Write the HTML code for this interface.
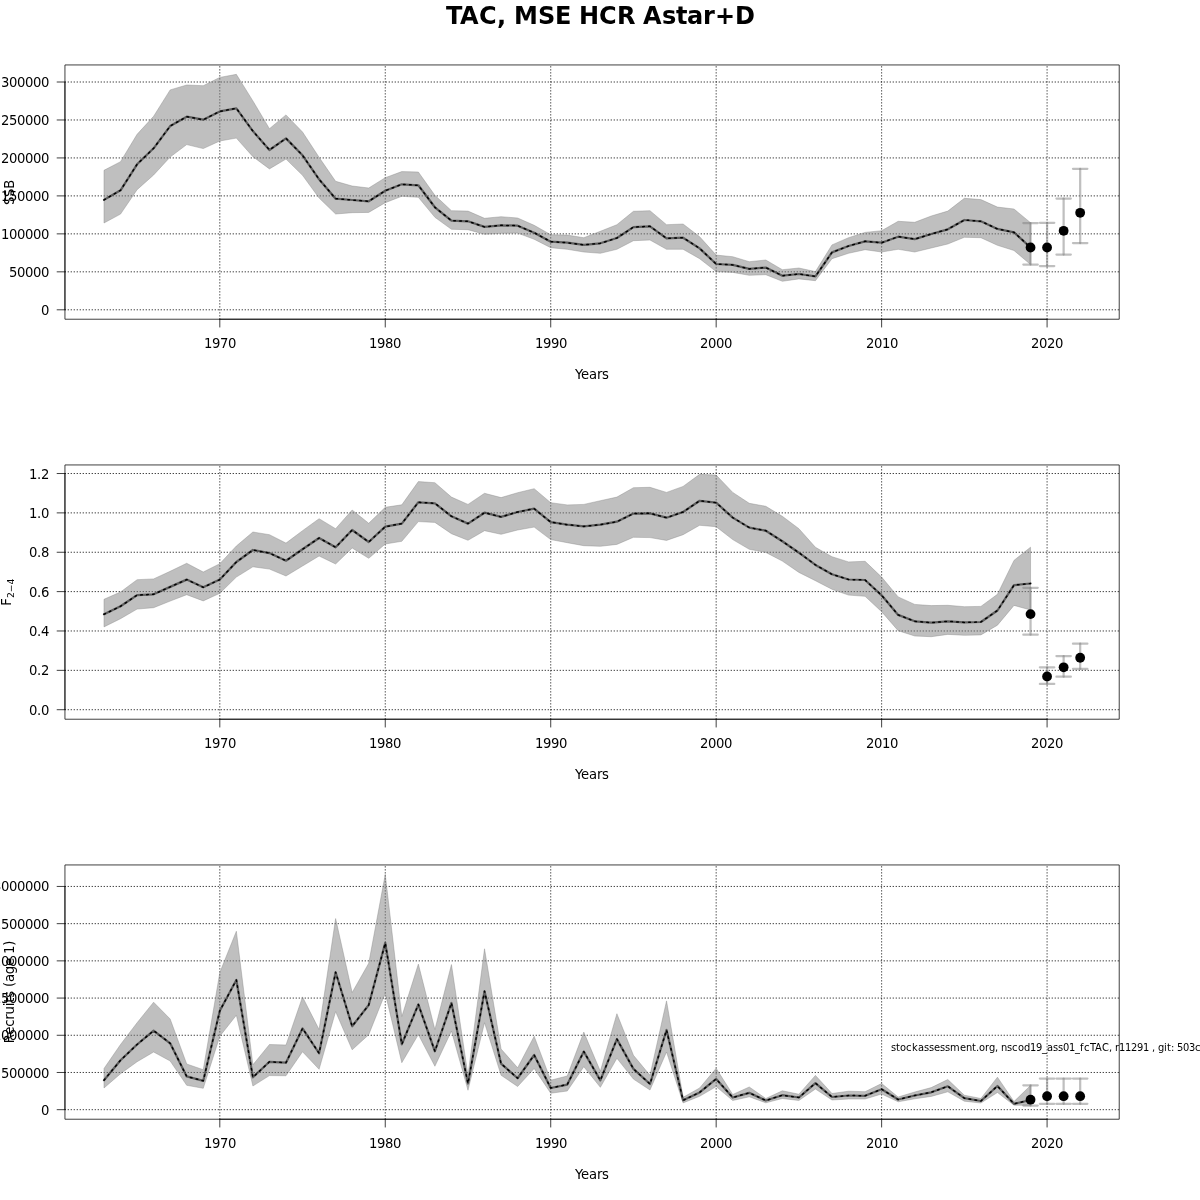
<!DOCTYPE html>
<html lang="en"><head><meta charset="utf-8"><title>TAC, MSE HCR Astar+D</title>
<style>
html,body{margin:0;padding:0;background:#fff;}
body{width:1200px;height:1200px;overflow:hidden;}
svg{display:block;}
text{font-family:"DejaVu Sans","Liberation Sans",sans-serif;fill:#000;}
.t{font-size:13.2px;}
.ax{stroke:#000;stroke-width:0.75;fill:none;stroke-linejoin:round;}
.gr{stroke:#000;stroke-width:0.75;fill:none;stroke-dasharray:1.34 1.66;stroke-dashoffset:0.295;}
.band{fill:rgb(127,127,127);fill-opacity:0.5;stroke:rgb(127,127,127);stroke-opacity:0.5;stroke-width:0.75;stroke-linejoin:round;}
.ln{stroke:#000;stroke-opacity:0.5;stroke-width:2.25;fill:none;stroke-linejoin:round;stroke-linecap:round;}
.dt{stroke:#000;stroke-width:1.5;fill:none;stroke-linejoin:round;stroke-linecap:round;stroke-dasharray:1.6 4.4;stroke-dashoffset:0.05;}
.eb{stroke:rgb(127,127,127);stroke-opacity:0.5;stroke-width:2.25;fill:none;stroke-linecap:round;}
</style></head><body>
<svg width="1200" height="1200" viewBox="0 0 1200 1200">
<rect width="1200" height="1200" fill="#fff"/>
<text x="446 460 479 497 506 514 538 555 571 579 599 617 635 643 662 676 687 703 715 735" y="24" font-size="24" font-weight="bold">TAC, MSE HCR Astar+D</text>
<g>
<line class="gr" x1="219.81" y1="319.22" x2="219.81" y2="64.94"/>
<line class="gr" x1="385.26" y1="319.22" x2="385.26" y2="64.94"/>
<line class="gr" x1="550.72" y1="319.22" x2="550.72" y2="64.94"/>
<line class="gr" x1="716.17" y1="319.22" x2="716.17" y2="64.94"/>
<line class="gr" x1="881.63" y1="319.22" x2="881.63" y2="64.94"/>
<line class="gr" x1="1047.08" y1="319.22" x2="1047.08" y2="64.94"/>
<line class="gr" x1="64.94" y1="309.8" x2="1119.22" y2="309.8"/>
<line class="gr" x1="64.94" y1="271.83" x2="1119.22" y2="271.83"/>
<line class="gr" x1="64.94" y1="233.87" x2="1119.22" y2="233.87"/>
<line class="gr" x1="64.94" y1="195.9" x2="1119.22" y2="195.9"/>
<line class="gr" x1="64.94" y1="157.93" x2="1119.22" y2="157.93"/>
<line class="gr" x1="64.94" y1="119.97" x2="1119.22" y2="119.97"/>
<line class="gr" x1="64.94" y1="82" x2="1119.22" y2="82"/>
<polygon class="band" points="103.99,170.3 120.53,161.7 137.08,134.3 153.62,116.3 170.17,89.9 186.71,85 203.26,85.7 219.81,77.4 236.35,74.36 252.9,100.9 269.44,128.7 285.99,114.9 302.53,132 319.08,157.3 335.62,181.3 352.17,186 368.72,188 385.26,177.7 401.81,171.6 418.35,172 434.9,195.3 451.44,210.7 467.99,211.1 484.53,218.3 501.08,216.7 517.63,218 534.17,225.3 550.72,234.7 567.26,235.1 583.81,237.7 600.35,231.3 616.9,224.7 633.44,211.3 649.99,210.7 666.53,224.7 683.08,224 699.63,236.7 716.17,255.1 732.72,256.7 749.26,261.7 765.81,260 782.35,269.7 798.9,268 815.44,271.6 831.99,244.9 848.54,237.7 865.08,232.4 881.63,230.7 898.17,221.3 914.72,222.3 931.26,216 947.81,211.1 964.35,198.3 980.9,199.6 997.45,207.1 1013.99,209 1030.54,222.7 1030.54,264.5 1013.99,250.5 997.45,245.3 980.9,237.7 964.35,237.3 947.81,244 931.26,248 914.72,252 898.17,249.3 881.63,252 865.08,249.7 848.54,253.3 831.99,258.7 815.44,280.7 798.9,278.9 782.35,281.3 765.81,274.7 749.26,275.3 732.72,272.4 716.17,271.6 699.63,258.7 683.08,249.3 666.53,249.3 649.99,240 633.44,240.7 616.9,249.3 600.35,253.3 583.81,252 567.26,249.3 550.72,247.7 534.17,239.3 517.63,233.1 501.08,233.3 484.53,234.3 467.99,229.7 451.44,229.3 434.9,217.3 418.35,197.3 401.81,196.3 385.26,202.7 368.72,212.4 352.17,212.7 335.62,214 319.08,198 302.53,175.3 285.99,159.1 269.44,168.9 252.9,156.7 236.35,138.1 219.81,141 203.26,148.6 186.71,144.6 170.17,157 153.62,175 137.08,189.7 120.53,214.1 103.99,223"/>
<polyline class="ln" points="103.99,199.9 120.53,190.3 137.08,164.3 153.62,148.3 170.17,126.1 186.71,116.7 203.26,119.7 219.81,111.4 236.35,108.3 252.9,131.1 269.44,150 285.99,138.4 302.53,155.3 319.08,179.3 335.62,198.7 352.17,200 368.72,201.3 385.26,190.7 401.81,184.3 418.35,185.3 434.9,207.3 451.44,220.7 467.99,221.3 484.53,226.9 501.08,225.3 517.63,225.7 534.17,232.7 550.72,241.7 567.26,242.7 583.81,244.9 600.35,243.3 616.9,238 633.44,227.1 649.99,226.3 666.53,238.3 683.08,237.7 699.63,248.4 716.17,264 732.72,264.9 749.26,268.9 765.81,267.6 782.35,275.7 798.9,274 815.44,276.4 831.99,252.4 848.54,246 865.08,241.3 881.63,242.7 898.17,236.7 914.72,239.1 931.26,234 947.81,229.3 964.35,220 980.9,221.3 997.45,228.9 1013.99,232.3 1030.54,247.5"/>
<polyline class="dt" points="103.99,199.9 120.53,190.3 137.08,164.3 153.62,148.3 170.17,126.1 186.71,116.7 203.26,119.7 219.81,111.4 236.35,108.3 252.9,131.1 269.44,150 285.99,138.4 302.53,155.3 319.08,179.3 335.62,198.7 352.17,200 368.72,201.3 385.26,190.7 401.81,184.3 418.35,185.3 434.9,207.3 451.44,220.7 467.99,221.3 484.53,226.9 501.08,225.3 517.63,225.7 534.17,232.7 550.72,241.7 567.26,242.7 583.81,244.9 600.35,243.3 616.9,238 633.44,227.1 649.99,226.3 666.53,238.3 683.08,237.7 699.63,248.4 716.17,264 732.72,264.9 749.26,268.9 765.81,267.6 782.35,275.7 798.9,274 815.44,276.4 831.99,252.4 848.54,246 865.08,241.3 881.63,242.7 898.17,236.7 914.72,239.1 931.26,234 947.81,229.3 964.35,220 980.9,221.3 997.45,228.9 1013.99,232.3 1030.54,247.5"/>
<path class="eb" d="M1030.54 264.5V223"/><path class="eb" d="M1023.34 264.5H1037.74"/><path class="eb" d="M1023.34 223H1037.74"/>
<path class="eb" d="M1047.08 266V222.8"/><path class="eb" d="M1039.88 266H1054.28"/><path class="eb" d="M1039.88 222.8H1054.28"/>
<path class="eb" d="M1063.63 254.5V198.5"/><path class="eb" d="M1056.43 254.5H1070.83"/><path class="eb" d="M1056.43 198.5H1070.83"/>
<path class="eb" d="M1080.17 243V168.8"/><path class="eb" d="M1072.97 243H1087.37"/><path class="eb" d="M1072.97 168.8H1087.37"/>
<circle cx="1030.54" cy="247.5" r="4.9" fill="#000"/>
<circle cx="1047.08" cy="247.5" r="4.9" fill="#000"/>
<circle cx="1063.63" cy="230.8" r="4.9" fill="#000"/>
<circle cx="1080.17" cy="212.8" r="4.9" fill="#000"/>
<path class="ax" d="M64.94 64.94H1119.22V319.22H64.94Z"/>
<line class="ax" x1="219.51" y1="319.22" x2="1047.38" y2="319.22"/>
<line class="ax" x1="219.81" y1="318.92" x2="219.81" y2="327.44"/>
<line class="ax" x1="385.26" y1="318.92" x2="385.26" y2="327.44"/>
<line class="ax" x1="550.72" y1="318.92" x2="550.72" y2="327.44"/>
<line class="ax" x1="716.17" y1="318.92" x2="716.17" y2="327.44"/>
<line class="ax" x1="881.63" y1="318.92" x2="881.63" y2="327.44"/>
<line class="ax" x1="1047.08" y1="318.92" x2="1047.08" y2="327.44"/>
<text class="t" x="204 212 220 228" y="348">1970</text>
<text class="t" x="369 377 385 393" y="348">1980</text>
<text class="t" x="535 543 551 559" y="348">1990</text>
<text class="t" x="700 708 716 724" y="348">2000</text>
<text class="t" x="866 874 882 890" y="348">2010</text>
<text class="t" x="1031 1039 1047 1055" y="348">2020</text>
<line class="ax" x1="64.94" y1="310.1" x2="64.94" y2="81.7"/>
<line class="ax" x1="65.24" y1="309.8" x2="56.72" y2="309.8"/>
<line class="ax" x1="65.24" y1="271.83" x2="56.72" y2="271.83"/>
<line class="ax" x1="65.24" y1="233.87" x2="56.72" y2="233.87"/>
<line class="ax" x1="65.24" y1="195.9" x2="56.72" y2="195.9"/>
<line class="ax" x1="65.24" y1="157.93" x2="56.72" y2="157.93"/>
<line class="ax" x1="65.24" y1="119.97" x2="56.72" y2="119.97"/>
<line class="ax" x1="65.24" y1="82" x2="56.72" y2="82"/>
<text class="t" x="41" y="315">0</text>
<text class="t" x="9 17 25 33 41" y="277">50000</text>
<text class="t" x="1 9 17 25 33 41" y="239">100000</text>
<text class="t" x="1 9 17 25 33 41" y="201">150000</text>
<text class="t" x="1 9 17 25 33 41" y="163">200000</text>
<text class="t" x="1 9 17 25 33 41" y="125">250000</text>
<text class="t" x="1 9 17 25 33 41" y="87">300000</text>
<text class="t" x="575 581 589 597 602" y="379">Years</text>
<text class="t" transform="translate(14.2 192.48) rotate(-90)" text-anchor="middle" letter-spacing="-0.2">SSB</text>
</g>
<g>
<line class="gr" x1="219.81" y1="719.22" x2="219.81" y2="464.94"/>
<line class="gr" x1="385.26" y1="719.22" x2="385.26" y2="464.94"/>
<line class="gr" x1="550.72" y1="719.22" x2="550.72" y2="464.94"/>
<line class="gr" x1="716.17" y1="719.22" x2="716.17" y2="464.94"/>
<line class="gr" x1="881.63" y1="719.22" x2="881.63" y2="464.94"/>
<line class="gr" x1="1047.08" y1="719.22" x2="1047.08" y2="464.94"/>
<line class="gr" x1="64.94" y1="709.71" x2="1119.22" y2="709.71"/>
<line class="gr" x1="64.94" y1="670.35" x2="1119.22" y2="670.35"/>
<line class="gr" x1="64.94" y1="630.98" x2="1119.22" y2="630.98"/>
<line class="gr" x1="64.94" y1="591.62" x2="1119.22" y2="591.62"/>
<line class="gr" x1="64.94" y1="552.26" x2="1119.22" y2="552.26"/>
<line class="gr" x1="64.94" y1="512.89" x2="1119.22" y2="512.89"/>
<line class="gr" x1="64.94" y1="473.53" x2="1119.22" y2="473.53"/>
<polygon class="band" points="103.99,599.3 120.53,592 137.08,579.7 153.62,578.9 170.17,571.3 186.71,563.3 203.26,572 219.81,563.7 236.35,546 252.9,532 269.44,534.7 285.99,543.1 302.53,530.7 319.08,518.7 335.62,528.7 352.17,510 368.72,523.3 385.26,507.3 401.81,504.8 418.35,481.6 434.9,482.7 451.44,497.1 467.99,504.4 484.53,493.3 501.08,497.6 517.63,492.7 534.17,488.7 550.72,502.7 567.26,504.9 583.81,504.4 600.35,500.7 616.9,497.1 633.44,487.7 649.99,487.3 666.53,492.4 683.08,486.4 699.63,474.36 716.17,475.1 732.72,492.4 749.26,503.3 765.81,506.3 782.35,516.3 798.9,528.7 815.44,547.3 831.99,556.7 848.54,561.9 865.08,561.3 881.63,577.1 898.17,596.9 914.72,604.4 931.26,605.6 947.81,605.3 964.35,606.7 980.9,606.4 997.45,594.3 1013.99,560.4 1030.54,547.2 1030.54,610 1013.99,605.4 997.45,625.2 980.9,634.9 964.35,635.3 947.81,634.4 931.26,636.7 914.72,636 898.17,630.7 881.63,611.7 865.08,596.3 848.54,595.1 831.99,589.3 815.44,580.7 798.9,572.4 782.35,561.1 765.81,552.4 749.26,549.3 732.72,539.6 716.17,526.7 699.63,525.3 683.08,534.7 666.53,540.4 649.99,537.6 633.44,537.3 616.9,544.4 600.35,546.3 583.81,545.7 567.26,542.7 550.72,539.6 534.17,527.1 517.63,530 501.08,534.3 484.53,530.7 467.99,540.3 451.44,533.7 434.9,522.4 418.35,521.6 401.81,541.3 385.26,544 368.72,558.3 352.17,548 335.62,564 319.08,556 302.53,566 285.99,576 269.44,569.1 252.9,566.8 236.35,577.1 219.81,593.3 203.26,600.9 186.71,594.7 170.17,601.1 153.62,607.7 137.08,609.1 120.53,618.7 103.99,626.9"/>
<polyline class="ln" points="103.99,614.3 120.53,606.3 137.08,595.1 153.62,594.3 170.17,586.9 186.71,579.6 203.26,587.3 219.81,579.6 236.35,562 252.9,550 269.44,553.1 285.99,560.7 302.53,549.3 319.08,538 335.62,547.3 352.17,530 368.72,542 385.26,526.7 401.81,523.6 418.35,502.3 434.9,503.3 451.44,516.3 467.99,523.6 484.53,512.7 501.08,516.9 517.63,512 534.17,508.7 550.72,522.2 567.26,524.7 583.81,526.4 600.35,524.7 616.9,521.7 633.44,513.6 649.99,513.3 666.53,517.7 683.08,512 699.63,500.8 716.17,502.7 732.72,517.6 749.26,527.6 765.81,530.7 782.35,541.3 798.9,552.7 815.44,564.9 831.99,574.3 848.54,579.5 865.08,580 881.63,595.3 898.17,614.9 914.72,621.3 931.26,622.7 947.81,621.3 964.35,622.4 980.9,622 997.45,610.5 1013.99,585.2 1030.54,583.5"/>
<polyline class="dt" points="103.99,614.3 120.53,606.3 137.08,595.1 153.62,594.3 170.17,586.9 186.71,579.6 203.26,587.3 219.81,579.6 236.35,562 252.9,550 269.44,553.1 285.99,560.7 302.53,549.3 319.08,538 335.62,547.3 352.17,530 368.72,542 385.26,526.7 401.81,523.6 418.35,502.3 434.9,503.3 451.44,516.3 467.99,523.6 484.53,512.7 501.08,516.9 517.63,512 534.17,508.7 550.72,522.2 567.26,524.7 583.81,526.4 600.35,524.7 616.9,521.7 633.44,513.6 649.99,513.3 666.53,517.7 683.08,512 699.63,500.8 716.17,502.7 732.72,517.6 749.26,527.6 765.81,530.7 782.35,541.3 798.9,552.7 815.44,564.9 831.99,574.3 848.54,579.5 865.08,580 881.63,595.3 898.17,614.9 914.72,621.3 931.26,622.7 947.81,621.3 964.35,622.4 980.9,622 997.45,610.5 1013.99,585.2 1030.54,583.5"/>
<path class="eb" d="M1030.54 634.7V587.8"/><path class="eb" d="M1023.34 634.7H1037.74"/><path class="eb" d="M1023.34 587.8H1037.74"/>
<path class="eb" d="M1047.08 683.9V667.3"/><path class="eb" d="M1039.88 683.9H1054.28"/><path class="eb" d="M1039.88 667.3H1054.28"/>
<path class="eb" d="M1063.63 676.7V656"/><path class="eb" d="M1056.43 676.7H1070.83"/><path class="eb" d="M1056.43 656H1070.83"/>
<path class="eb" d="M1080.17 668.8V643.65"/><path class="eb" d="M1072.97 668.8H1087.37"/><path class="eb" d="M1072.97 643.65H1087.37"/>
<circle cx="1030.54" cy="614.1" r="4.9" fill="#000"/>
<circle cx="1047.08" cy="676.5" r="4.9" fill="#000"/>
<circle cx="1063.63" cy="667.3" r="4.9" fill="#000"/>
<circle cx="1080.17" cy="657.75" r="4.9" fill="#000"/>
<path class="ax" d="M64.94 464.94H1119.22V719.22H64.94Z"/>
<line class="ax" x1="219.51" y1="719.22" x2="1047.38" y2="719.22"/>
<line class="ax" x1="219.81" y1="718.92" x2="219.81" y2="727.44"/>
<line class="ax" x1="385.26" y1="718.92" x2="385.26" y2="727.44"/>
<line class="ax" x1="550.72" y1="718.92" x2="550.72" y2="727.44"/>
<line class="ax" x1="716.17" y1="718.92" x2="716.17" y2="727.44"/>
<line class="ax" x1="881.63" y1="718.92" x2="881.63" y2="727.44"/>
<line class="ax" x1="1047.08" y1="718.92" x2="1047.08" y2="727.44"/>
<text class="t" x="204 212 220 228" y="748">1970</text>
<text class="t" x="369 377 385 393" y="748">1980</text>
<text class="t" x="535 543 551 559" y="748">1990</text>
<text class="t" x="700 708 716 724" y="748">2000</text>
<text class="t" x="866 874 882 890" y="748">2010</text>
<text class="t" x="1031 1039 1047 1055" y="748">2020</text>
<line class="ax" x1="64.94" y1="710.01" x2="64.94" y2="473.23"/>
<line class="ax" x1="65.24" y1="709.71" x2="56.72" y2="709.71"/>
<line class="ax" x1="65.24" y1="670.35" x2="56.72" y2="670.35"/>
<line class="ax" x1="65.24" y1="630.98" x2="56.72" y2="630.98"/>
<line class="ax" x1="65.24" y1="591.62" x2="56.72" y2="591.62"/>
<line class="ax" x1="65.24" y1="552.26" x2="56.72" y2="552.26"/>
<line class="ax" x1="65.24" y1="512.89" x2="56.72" y2="512.89"/>
<line class="ax" x1="65.24" y1="473.53" x2="56.72" y2="473.53"/>
<text class="t" x="29 37 41" y="715">0.0</text>
<text class="t" x="29 37 41" y="675">0.2</text>
<text class="t" x="29 37 41" y="636">0.4</text>
<text class="t" x="29 37 41" y="597">0.6</text>
<text class="t" x="29 37 41" y="557">0.8</text>
<text class="t" x="29 37 41" y="518">1.0</text>
<text class="t" x="29 37 41" y="479">1.2</text>
<text class="t" x="575 581 589 597 602" y="779">Years</text>
<text class="t" transform="translate(11.2 592.08) rotate(-90)" text-anchor="middle">F<tspan font-size="9.24" dy="2.6">2−4</tspan></text>
</g>
<g>
<line class="gr" x1="219.81" y1="1119.22" x2="219.81" y2="864.94"/>
<line class="gr" x1="385.26" y1="1119.22" x2="385.26" y2="864.94"/>
<line class="gr" x1="550.72" y1="1119.22" x2="550.72" y2="864.94"/>
<line class="gr" x1="716.17" y1="1119.22" x2="716.17" y2="864.94"/>
<line class="gr" x1="881.63" y1="1119.22" x2="881.63" y2="864.94"/>
<line class="gr" x1="1047.08" y1="1119.22" x2="1047.08" y2="864.94"/>
<line class="gr" x1="64.94" y1="1109.68" x2="1119.22" y2="1109.68"/>
<line class="gr" x1="64.94" y1="1072.48" x2="1119.22" y2="1072.48"/>
<line class="gr" x1="64.94" y1="1035.27" x2="1119.22" y2="1035.27"/>
<line class="gr" x1="64.94" y1="998.07" x2="1119.22" y2="998.07"/>
<line class="gr" x1="64.94" y1="960.86" x2="1119.22" y2="960.86"/>
<line class="gr" x1="64.94" y1="923.66" x2="1119.22" y2="923.66"/>
<line class="gr" x1="64.94" y1="886.45" x2="1119.22" y2="886.45"/>
<polygon class="band" points="103.99,1068.5 120.53,1044.5 137.08,1022.75 153.62,1002.2 170.17,1019 186.71,1064 203.26,1069.7 219.81,972.5 236.35,931.25 252.9,1064.8 269.44,1044.5 285.99,1045 302.53,996.9 319.08,1029.5 335.62,918.55 352.17,992.5 368.72,963.25 385.26,874.36 401.81,1016.5 418.35,964.1 434.9,1029.5 451.44,964.55 467.99,1075.25 484.53,948.8 501.08,1049 517.63,1067.75 534.17,1036.25 550.72,1080.2 567.26,1076 583.81,1032.1 600.35,1071.3 616.9,1013.7 633.44,1055.3 649.99,1075.3 666.53,1000.9 683.08,1097.3 699.63,1088 716.17,1068.3 732.72,1094.5 749.26,1087 765.81,1098.5 782.35,1090.8 798.9,1094.2 815.44,1075.4 831.99,1093.5 848.54,1091.2 865.08,1091.7 881.63,1083.5 898.17,1097 914.72,1092 931.26,1087.6 947.81,1079.5 964.35,1095.2 980.9,1098.5 997.45,1077.2 1013.99,1101.5 1030.54,1085.5 1030.54,1105.3 1013.99,1105.2 997.45,1092.5 980.9,1103 964.35,1101.2 947.81,1091.8 931.26,1096.4 914.72,1098.8 898.17,1101.8 881.63,1094 865.08,1099 848.54,1099 831.99,1100 815.44,1089 798.9,1100.5 782.35,1098.5 765.81,1102.8 749.26,1096.8 732.72,1100.5 716.17,1086.6 699.63,1096.3 683.08,1102.9 666.53,1052 649.99,1090 633.44,1079.1 616.9,1058.3 600.35,1087.3 583.81,1066.7 567.26,1091 550.72,1093.25 534.17,1068.5 517.63,1086.5 501.08,1075.25 484.53,1022.75 467.99,1090.25 451.44,1031 434.9,1066.25 418.35,1034.6 401.81,1062.7 385.26,993.25 368.72,1034.7 352.17,1049.8 335.62,1011.6 319.08,1069.3 302.53,1051.75 285.99,1075.75 269.44,1075.6 252.9,1086 236.35,1015.25 219.81,1036.25 203.26,1088.3 186.71,1085.3 170.17,1061 153.62,1052 137.08,1061.75 120.53,1073.75 103.99,1088"/>
<polyline class="ln" points="103.99,1080.2 120.53,1060.25 137.08,1044.5 153.62,1030.7 170.17,1043.3 186.71,1076.45 203.26,1080.8 219.81,1010.75 236.35,980 252.9,1077.3 269.44,1061.8 285.99,1062.7 302.53,1028.4 319.08,1053.25 335.62,972.25 352.17,1026.25 368.72,1005 385.26,942.9 401.81,1044.25 418.35,1004.5 434.9,1051.25 451.44,1002.95 467.99,1083.5 484.53,991.25 501.08,1063.7 517.63,1078.25 534.17,1055 550.72,1088 567.26,1084.55 583.81,1051.6 600.35,1080.4 616.9,1039.1 633.44,1068.9 649.99,1084 666.53,1030 683.08,1100.3 699.63,1092.4 716.17,1078.9 732.72,1097.5 749.26,1092.8 765.81,1100.5 782.35,1095.2 798.9,1097.5 815.44,1083.1 831.99,1097 848.54,1095.5 865.08,1095.8 881.63,1089.2 898.17,1099.5 914.72,1095.5 931.26,1092.3 947.81,1086.3 964.35,1098.2 980.9,1101 997.45,1086 1013.99,1103.8 1030.54,1100"/>
<polyline class="dt" points="103.99,1080.2 120.53,1060.25 137.08,1044.5 153.62,1030.7 170.17,1043.3 186.71,1076.45 203.26,1080.8 219.81,1010.75 236.35,980 252.9,1077.3 269.44,1061.8 285.99,1062.7 302.53,1028.4 319.08,1053.25 335.62,972.25 352.17,1026.25 368.72,1005 385.26,942.9 401.81,1044.25 418.35,1004.5 434.9,1051.25 451.44,1002.95 467.99,1083.5 484.53,991.25 501.08,1063.7 517.63,1078.25 534.17,1055 550.72,1088 567.26,1084.55 583.81,1051.6 600.35,1080.4 616.9,1039.1 633.44,1068.9 649.99,1084 666.53,1030 683.08,1100.3 699.63,1092.4 716.17,1078.9 732.72,1097.5 749.26,1092.8 765.81,1100.5 782.35,1095.2 798.9,1097.5 815.44,1083.1 831.99,1097 848.54,1095.5 865.08,1095.8 881.63,1089.2 898.17,1099.5 914.72,1095.5 931.26,1092.3 947.81,1086.3 964.35,1098.2 980.9,1101 997.45,1086 1013.99,1103.8 1030.54,1100"/>
<path class="eb" d="M1030.54 1105.5V1085.3"/><path class="eb" d="M1023.34 1105.5H1037.74"/><path class="eb" d="M1023.34 1085.3H1037.74"/>
<path class="eb" d="M1047.08 1103.8V1078.5"/><path class="eb" d="M1039.88 1103.8H1054.28"/><path class="eb" d="M1039.88 1078.5H1054.28"/>
<path class="eb" d="M1063.63 1103.8V1078.5"/><path class="eb" d="M1056.43 1103.8H1070.83"/><path class="eb" d="M1056.43 1078.5H1070.83"/>
<path class="eb" d="M1080.17 1103.8V1078.5"/><path class="eb" d="M1072.97 1103.8H1087.37"/><path class="eb" d="M1072.97 1078.5H1087.37"/>
<circle cx="1030.54" cy="1099.7" r="4.9" fill="#000"/>
<circle cx="1047.08" cy="1096.2" r="4.9" fill="#000"/>
<circle cx="1063.63" cy="1096.2" r="4.9" fill="#000"/>
<circle cx="1080.17" cy="1096.2" r="4.9" fill="#000"/>
<text x="891 896 900 906 912 918 924 929 934 940 945 950 960 966 972 976 979 985 989 995 998 1001 1007 1012 1018 1024 1030 1036 1042 1047 1053 1058 1063 1069 1075 1080 1084 1090 1095 1102 1109 1112 1115 1119 1125 1131 1137 1143 1149 1152 1155 1158 1164 1167 1171 1174 1177 1183 1189 1195" y="1051" font-size="9.9">stockassessment.org, nscod19_ass01_fcTAC, r11291 , git: 503c</text>
<path class="ax" d="M64.94 864.94H1119.22V1119.22H64.94Z"/>
<line class="ax" x1="219.51" y1="1119.22" x2="1047.38" y2="1119.22"/>
<line class="ax" x1="219.81" y1="1118.92" x2="219.81" y2="1127.44"/>
<line class="ax" x1="385.26" y1="1118.92" x2="385.26" y2="1127.44"/>
<line class="ax" x1="550.72" y1="1118.92" x2="550.72" y2="1127.44"/>
<line class="ax" x1="716.17" y1="1118.92" x2="716.17" y2="1127.44"/>
<line class="ax" x1="881.63" y1="1118.92" x2="881.63" y2="1127.44"/>
<line class="ax" x1="1047.08" y1="1118.92" x2="1047.08" y2="1127.44"/>
<text class="t" x="204 212 220 228" y="1148">1970</text>
<text class="t" x="369 377 385 393" y="1148">1980</text>
<text class="t" x="535 543 551 559" y="1148">1990</text>
<text class="t" x="700 708 716 724" y="1148">2000</text>
<text class="t" x="866 874 882 890" y="1148">2010</text>
<text class="t" x="1031 1039 1047 1055" y="1148">2020</text>
<line class="ax" x1="64.94" y1="1109.98" x2="64.94" y2="886.15"/>
<line class="ax" x1="65.24" y1="1109.68" x2="56.72" y2="1109.68"/>
<line class="ax" x1="65.24" y1="1072.48" x2="56.72" y2="1072.48"/>
<line class="ax" x1="65.24" y1="1035.27" x2="56.72" y2="1035.27"/>
<line class="ax" x1="65.24" y1="998.07" x2="56.72" y2="998.07"/>
<line class="ax" x1="65.24" y1="960.86" x2="56.72" y2="960.86"/>
<line class="ax" x1="65.24" y1="923.66" x2="56.72" y2="923.66"/>
<line class="ax" x1="65.24" y1="886.45" x2="56.72" y2="886.45"/>
<text class="t" x="41" y="1115">0</text>
<text class="t" x="1 9 17 25 33 41" y="1078">500000</text>
<text class="t" x="-7 1 9 17 25 33 41" y="1040">1000000</text>
<text class="t" x="-7 1 9 17 25 33 41" y="1003">1500000</text>
<text class="t" x="-7 1 9 17 25 33 41" y="966">2000000</text>
<text class="t" x="-7 1 9 17 25 33 41" y="929">2500000</text>
<text class="t" x="-7 1 9 17 25 33 41" y="891">3000000</text>
<text class="t" x="575 581 589 597 602" y="1179">Years</text>
<text class="t" transform="translate(14.2 991.98) rotate(-90)" text-anchor="middle" letter-spacing="-0.17">Recruits (age 1)</text>
</g>
</svg>
</body></html>
